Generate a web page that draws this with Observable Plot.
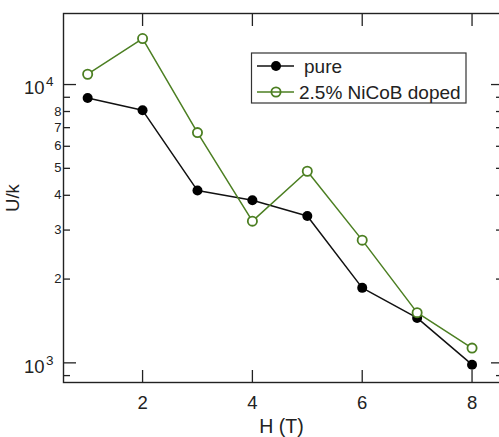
<!DOCTYPE html>
<html>
<head>
<meta charset="utf-8">
<script src="https://cdn.jsdelivr.net/npm/d3@7"></script>
<script src="https://cdn.jsdelivr.net/npm/@observablehq/plot@0.6"></script>
<style>
html, body { margin: 0; padding: 0; background: #fff; overflow: hidden; }
#chart svg { display: block; }
</style>
</head>
<body>
<div id="chart"></div>
<script>
// ---- data ----
const H = [1, 2, 3, 4, 5, 6, 7, 8];
const pure = [8950, 8080, 4160, 3840, 3370, 1860, 1450, 985];
const doped = [10890, 14630, 6720, 3230, 4880, 2760, 1515, 1130];
const seriesNames = ["pure", "2.5% NiCoB doped"];

// ---- tick values / labels ----
const xTicks = [2, 4, 6, 8];
const yMajor = [1000, 10000];
const yMajorExp = ["3", "4"];
const yMinor = [900, 2000, 3000, 4000, 5000, 6000, 7000, 8000, 9000];
const yMinorLabeled = [2000, 3000, 4000, 5000, 6000, 7000, 8000];
const xTitle = "H (T)";
const yTitle = "U/k";

const font = "'Liberation Sans', Arial, Helvetica, sans-serif";
const ink = "#222";
const green = "#4c7f22";

const pureData = H.map((h, i) => ({H: h, U: pure[i]}));
const dopedData = H.map((h, i) => ({H: h, U: doped[i]}));

const chart = Plot.plot({
  width: 499,
  height: 437,
  marginLeft: 63,
  marginRight: 0,
  marginTop: 13,
  marginBottom: 55,
  style: {fontFamily: font, color: ink, background: "#fff"},
  x: {domain: [0.56, 8.5]},
  y: {type: "log", domain: [850, 18000]},
  marks: [
    Plot.frame({stroke: ink, strokeWidth: 1.4, insetRight: -4}),
    // bottom axis
    Plot.axisX({anchor: "bottom", ticks: xTicks, tickSize: -12, tickPadding: 25, fontSize: 18.5, label: null, strokeWidth: 1.3}),
    // top axis ticks only
    Plot.axisX({anchor: "top", ticks: xTicks, tickSize: -12, tickFormat: () => "", label: null, strokeWidth: 1.3}),
    // left axis: major ticks + labels
    Plot.axisY({anchor: "left", ticks: yMajor, tickSize: -13, tickPadding: 23, tickFormat: () => "10", fontSize: 18.5, label: null, strokeWidth: 1.3}),
    // left axis: minor ticks
    Plot.axisY({anchor: "left", ticks: yMinor, tickSize: -7, tickFormat: () => "", label: null, strokeWidth: 1.3}),
    // left axis: minor labels
    Plot.axisY({anchor: "left", ticks: yMinorLabeled, tickSize: 0, tickPadding: 2, tickFormat: d => String(d / 1000), fontSize: 13, label: null}),
    // right axis ticks only
    Plot.axisY({anchor: "right", ticks: yMajor, tickSize: -9, tickFormat: () => "", label: null, strokeWidth: 1.3}),
    Plot.axisY({anchor: "right", ticks: yMinor, tickSize: -4, tickFormat: () => "", label: null, strokeWidth: 1.3}),
    // axis titles
    Plot.text([yTitle], {frameAnchor: "left", textAnchor: "middle", lineAnchor: "middle", dx: -50, rotate: -90, fontSize: 18.5, fill: ink}),
    Plot.text([xTitle], {frameAnchor: "bottom", textAnchor: "middle", lineAnchor: "middle", dy: 44, fontSize: 19.5, fill: ink}),
    // series
    Plot.line(pureData, {x: "H", y: "U", stroke: "#111", strokeWidth: 1.5}),
    Plot.dot(pureData, {x: "H", y: "U", r: 5, fill: "#000"}),
    Plot.line(dopedData, {x: "H", y: "U", stroke: green, strokeWidth: 1.5}),
    Plot.dot(dopedData, {x: "H", y: "U", r: 4.6, stroke: green, strokeWidth: 1.8, fill: "#fff"})
  ]
});

document.getElementById("chart").appendChild(chart);

// superscript exponents on the major labels "10"
const svg = d3.select(chart);
const majorTexts = svg.selectAll("text").filter(function () { return this.textContent === "10"; });
majorTexts.each(function (d, i) {
  const t = d3.select(this);
  t.attr("y", "9.9px");
  t.append("tspan").attr("dx", "1.5").attr("dy", "-8.2").attr("font-size", "13.5px").text(yMajorExp[i]);
});

// legend
const lg = svg.append("g").attr("font-family", font).attr("font-size", "19px").attr("text-anchor", "start");
lg.append("rect").attr("x", 251.5).attr("y", 53).attr("width", 214.5).attr("height", 50)
  .attr("fill", "#fff").attr("stroke", "#333").attr("stroke-width", 1.2);
const legendStyles = [
  {stroke: "#111", fill: "#000", r: 5, sw: 0},
  {stroke: green, fill: "none", r: 4.6, sw: 1.8}
];
seriesNames.forEach((name, i) => {
  const y = 66 + i * 26;
  const s = legendStyles[i];
  lg.append("line").attr("x1", 257).attr("x2", 294).attr("y1", y).attr("y2", y)
    .attr("stroke", s.stroke).attr("stroke-width", 1.5);
  lg.append("circle").attr("cx", 276).attr("cy", y).attr("r", s.r)
    .attr("fill", s.fill).attr("stroke", s.sw ? s.stroke : "none").attr("stroke-width", s.sw);
  lg.append("text").attr("x", i === 0 ? 304 : 299).attr("y", y).attr("dy", "0.35em")
    .attr("fill", ink).text(name);
});
</script>
</body>
</html>
